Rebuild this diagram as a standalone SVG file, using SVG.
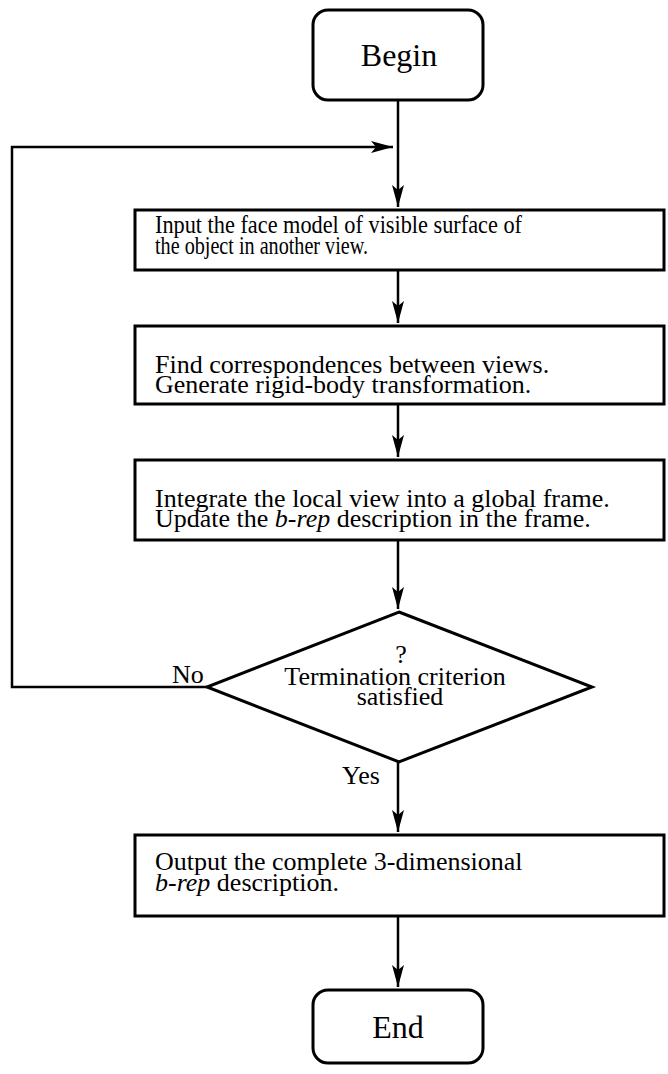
<svg xmlns="http://www.w3.org/2000/svg" width="668" height="1074" viewBox="0 0 668 1074">
<style>
.box{fill:#fff;stroke:#000;stroke-width:3}
.t{font-family:"Liberation Serif","Times New Roman",serif;font-size:26px;fill:#000}
.big{font-size:32px}
.it{font-style:italic}
.c{text-anchor:middle}
.ln{fill:none;stroke:#000;stroke-width:2.5}
</style>
<defs>
<marker id="ah" markerUnits="userSpaceOnUse" markerWidth="22" markerHeight="12" refX="22" refY="6" orient="auto">
<path d="M0,0 L22,6 L0,12 L5,6 z" fill="#000"/>
</marker>
</defs>
<g id="connectors">
<path class="ln" d="M398,100 V207" marker-end="url(#ah)"/>
<path class="ln" d="M207,687 H12 V147 H393" marker-end="url(#ah)"/>
<path class="ln" d="M398,270 V323" marker-end="url(#ah)"/>
<path class="ln" d="M398,404 V457" marker-end="url(#ah)"/>
<path class="ln" d="M398,540 V609" marker-end="url(#ah)"/>
<path class="ln" d="M398,762 V832" marker-end="url(#ah)"/>
<path class="ln" d="M398,916 V987" marker-end="url(#ah)"/>
<text class="t" x="172" y="683">No</text>
<text class="t" x="342" y="784">Yes</text>
</g>
<g id="begin">
<rect class="box" x="313" y="10" width="170" height="90" rx="15"/>
<text class="t big c" x="399" y="66">Begin</text>
</g>
<g id="input">
<rect class="box" x="135" y="210" width="529" height="60"/>
<text class="t" x="155" y="233" textLength="367" lengthAdjust="spacingAndGlyphs">Input the face model of visible surface of</text>
<text class="t" x="155" y="254" textLength="213" lengthAdjust="spacingAndGlyphs">the object in another view.</text>
</g>
<g id="find">
<rect class="box" x="135" y="326" width="529" height="78"/>
<text class="t" x="155" y="373">Find correspondences between views.</text>
<text class="t" x="155" y="393">Generate rigid-body transformation.</text>
</g>
<g id="integrate">
<rect class="box" x="135" y="460" width="529" height="80"/>
<text class="t" x="155" y="507">Integrate the local view into a global frame.</text>
<text class="t" x="155" y="527">Update the <tspan class="it">b-rep</tspan>  description in the frame.</text>
</g>
<g id="decision">
<polygon class="box" points="399,612 592,687 399,762 207,687"/>
<text class="t c" x="401" y="663">?</text>
<text class="t c" x="395" y="685">Termination criterion</text>
<text class="t c" x="400" y="705">satisfied</text>
</g>
<g id="output">
<rect class="box" x="135" y="835" width="529" height="81"/>
<text class="t" x="155" y="870">Output the complete 3-dimensional</text>
<text class="t" x="155" y="891"><tspan class="it">b-rep</tspan>  description.</text>
</g>
<g id="end">
<rect class="box" x="313" y="990" width="170" height="73" rx="15"/>
<text class="t big c" x="398" y="1038">End</text>
</g>
</svg>
